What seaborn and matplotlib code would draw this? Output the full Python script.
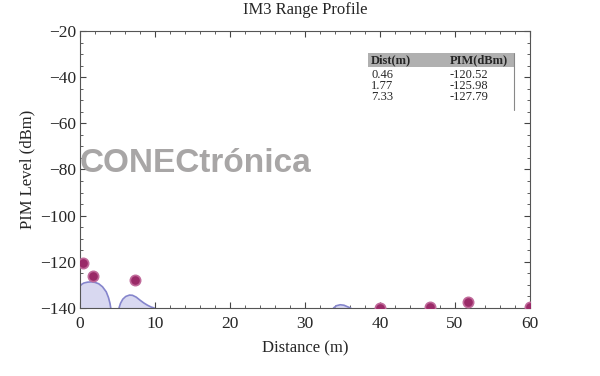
import matplotlib
matplotlib.use("Agg")
import matplotlib.pyplot as plt
import seaborn as sns
import pandas as pd
import numpy as np
from matplotlib.patches import Rectangle
from matplotlib.lines import Line2D

sns.set_style("ticks")
plt.rcParams['font.family'] = ['Liberation Serif', 'DejaVu Serif']

# Peaks (scatter)
peak_dist = [0.46, 1.77, 7.33, 40.0, 46.7, 51.7, 60.0]
peak_pim = [-120.52, -125.98, -127.79, -140.0, -139.6, -137.3, -139.6]

# Range profile humps
hump1_x = [0.0, 0.5, 1.0, 1.5, 2.0, 2.5, 3.0, 3.5, 3.8, 4.0, 4.1]
hump1_y = [-130.2, -129.2, -128.8, -128.7, -128.9, -129.5, -130.8, -133.0, -135.5, -138.0, -140.0]
hump2_x = [5.2, 5.4, 5.7, 6.1, 6.6, 7.0, 7.5, 8.0, 8.5, 9.0, 9.5, 9.9]
hump2_y = [-140.0, -138.0, -136.2, -135.0, -134.4, -134.5, -135.3, -136.6, -137.8, -138.8, -139.6, -140.0]
hump3_x = [33.8, 34.2, 34.7, 35.2, 35.7, 36.1]
hump3_y = [-140.0, -139.0, -138.6, -138.8, -139.5, -140.0]

table_cols = ["Dist(m)", "PIM(dBm)"]
table_dist = ["0.46", "1.77", "7.33"]
table_pim = ["-120.52", "-125.98", "-127.79"]

title = "IM3 Range Profile"
xlabel = "Distance (m)"
ylabel = "PIM Level (dBm)"
watermark = "CONECtrónica"

fig = plt.figure(figsize=(6, 3.76), dpi=100)
ax = fig.add_axes([80/600, 1-308/376, 450/600, 277/376])

fill_c = "#d8d8f0"
line_c = "#8585cc"
for hx, hy in [(hump1_x, hump1_y), (hump2_x, hump2_y), (hump3_x, hump3_y)]:
    ax.fill_between(hx, hy, -140, color=fill_c, lw=0, zorder=1)
    sns.lineplot(x=hx, y=hy, ax=ax, color=line_c, lw=1.2, sort=False, zorder=2)

df = pd.DataFrame({"d": peak_dist, "p": peak_pim})
sns.scatterplot(data=df, x="d", y="p", ax=ax, color="#9a2a68", s=55,
                edgecolor="#c06a9a", linewidth=1.2, zorder=3, clip_on=True)

ax.set_xlim(0, 60)
ax.set_ylim(-140, -20)
ax.set_xticks([0, 10, 20, 30, 40, 50, 60])
ax.set_yticks([-140, -120, -100, -80, -60, -40, -20])
ax.set_yticklabels(["\u2212140", "\u2212120", "\u2212100", "\u221280", "\u221260", "\u221240", "\u221220"])
ax.xaxis.set_minor_locator(matplotlib.ticker.MultipleLocator(2))
ax.yaxis.set_minor_locator(matplotlib.ticker.MultipleLocator(5))
ax.tick_params(which="both", direction="in", top=True, right=True, labelsize=12.5, color="#444444")
ax.tick_params(axis="x", pad=6)
ax.tick_params(axis="y", pad=3)
ax.tick_params(which="major", length=4)
ax.tick_params(which="minor", length=2.5)
for s in ax.spines.values():
    s.set_color("#555555")
    s.set_linewidth(0.8)

ax.set_title(title, fontsize=12, pad=12)
ax.set_xlabel(xlabel, fontsize=12, labelpad=6)
ax.set_ylabel(ylabel, fontsize=12, labelpad=3)

# watermark
fig.text(80/600, 1-163/376, watermark, fontsize=24, fontweight="bold",
         family="Liberation Sans", color="#a8a6a6", va="center", ha="left")

# table
def fx(px):
    return px/600
def fy(py):
    return 1-py/376
fig.patches.append(Rectangle((fx(368), fy(67)), (514-368)/600, 14/376,
                             transform=fig.transFigure, facecolor="#b0b0b0", edgecolor="none"))
fig.text(fx(371), fy(60), table_cols[0], fontsize=9, fontweight="bold", va="center")
fig.text(fx(450), fy(60), table_cols[1], fontsize=9, fontweight="bold", va="center")
for i, (d, p) in enumerate(zip(table_dist, table_pim)):
    yy = 75 + i*11
    fig.text(fx(371), fy(yy), d, fontsize=9, va="center")
    fig.text(fx(450), fy(yy), p, fontsize=9, va="center")
fig.lines.append(Line2D([fx(514), fx(514)], [fy(53), fy(110)], transform=fig.transFigure,
                        color="#888888", lw=0.8))

fig.savefig("out.png", dpi=100)
